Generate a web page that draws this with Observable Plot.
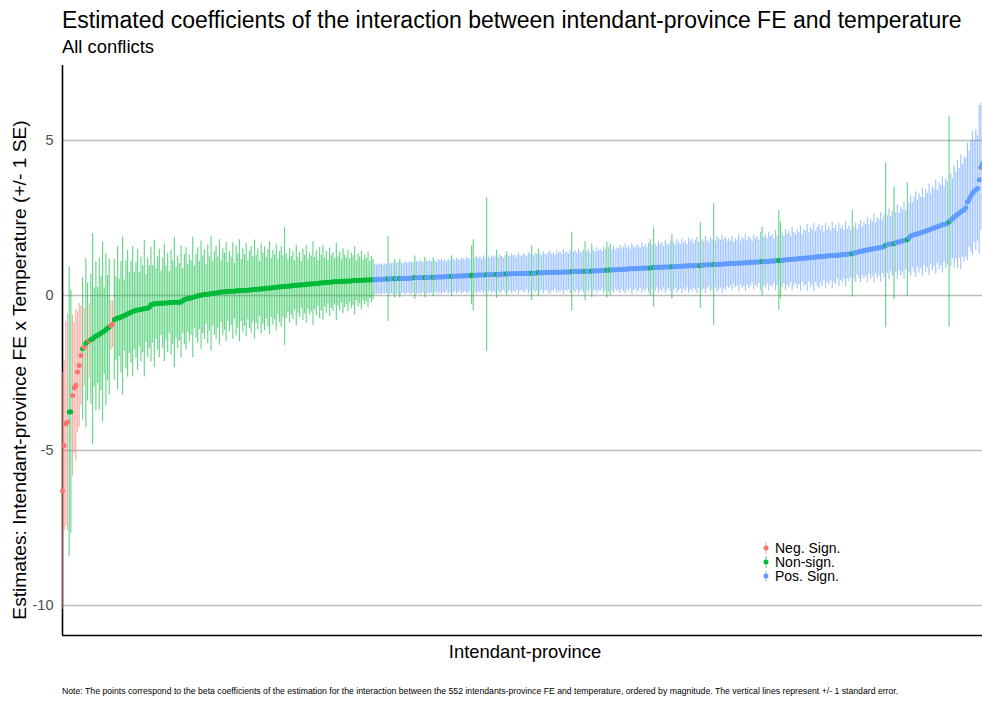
<!DOCTYPE html>
<html><head><meta charset="utf-8">
<script src="https://cdn.jsdelivr.net/npm/d3@7"></script>
<script src="https://cdn.jsdelivr.net/npm/@observablehq/plot@0.6"></script>
<style>
body{margin:0;background:#fff;font-family:"Liberation Sans",Arial,sans-serif;}
#wrap{position:relative;width:982px;height:702px;overflow:hidden;background:#fff;}
.t{position:absolute;white-space:nowrap;color:#000;line-height:1;}
#chart{position:absolute;left:0;top:0;}
#legend{position:absolute;left:760px;top:541px;font-size:14px;}
#legend .row{display:flex;align-items:center;height:14px;}
#legend .row span{display:block;height:14px;line-height:14px;white-space:nowrap;}
#legend svg{width:12px;height:14px;margin-right:3px;}
</style></head><body>
<div id="wrap">
<div id="chart"></div>
<div class="t" id="title" style="left:62px;top:9px;font-size:23px;"></div>
<div class="t" id="subtitle" style="left:62px;top:38px;font-size:18.4px;"></div>
<div class="t" id="ylab" style="left:20px;top:370px;font-size:19.2px;transform:translate(-50%,-50%) rotate(-90deg);"></div>
<div class="t" id="xlab" style="left:525px;top:643px;font-size:18.4px;transform:translateX(-50%);"></div>
<div id="legend"></div>
<div class="t" id="note" style="left:62px;top:687px;font-size:8.7px;"></div>
</div>
<script>
const titleText = "Estimated coefficients of the interaction between intendant-province FE and temperature";
const subtitleText = "All conflicts";
const yLabel = "Estimates: Intendant-province FE x Temperature (+/- 1 SE)";
const xLabel = "Intendant-province";
const noteText = "Note: The points correspond to the beta coefficients of the estimation for the interaction between the 552 intendants-province FE and temperature, ordered by magnitude. The vertical lines represent +/- 1 standard error.";
const signLabels = ["Neg. Sign.", "Non-sign.", "Pos. Sign."];
const signColors = ["#F8766D", "#00BA38", "#619CFF"];
const yTicks = [-10, -5, 0, 5];
const yDomain = [-10.97, 7.42];

const estimates = [
-6.30,-4.84,-4.14,-4.09,-3.76,-3.75,-3.23,-2.98,-2.90,-2.47,
-2.26,-1.94,-1.72,-1.67,-1.54,-1.50,-1.47,-1.42,-1.40,-1.35,
-1.31,-1.29,-1.25,-1.22,-1.18,-1.15,-1.10,-1.06,-1.02,-0.97,
-0.93,-0.78,-0.75,-0.73,-0.72,-0.70,-0.67,-0.65,-0.62,-0.59,
-0.57,-0.54,-0.52,-0.50,-0.48,-0.47,-0.46,-0.45,-0.44,-0.43,
-0.42,-0.40,-0.38,-0.30,-0.28,-0.27,-0.27,-0.26,-0.26,-0.25,
-0.25,-0.24,-0.24,-0.24,-0.23,-0.23,-0.23,-0.22,-0.22,-0.22,
-0.22,-0.21,-0.17,-0.13,-0.11,-0.10,-0.09,-0.08,-0.06,-0.05,
-0.03,-0.01,0.00,0.01,0.02,0.03,0.03,0.04,0.05,0.06,
0.07,0.07,0.08,0.09,0.10,0.11,0.11,0.12,0.12,0.13,
0.13,0.14,0.14,0.14,0.15,0.15,0.15,0.16,0.16,0.16,
0.17,0.17,0.18,0.18,0.19,0.19,0.20,0.20,0.21,0.21,
0.22,0.22,0.23,0.23,0.24,0.24,0.25,0.26,0.26,0.27,
0.27,0.28,0.29,0.29,0.30,0.30,0.31,0.31,0.32,0.32,
0.33,0.33,0.34,0.34,0.35,0.35,0.36,0.36,0.37,0.37,
0.38,0.38,0.39,0.39,0.40,0.40,0.41,0.41,0.42,0.43,
0.43,0.43,0.44,0.44,0.44,0.45,0.45,0.45,0.46,0.46,
0.46,0.47,0.47,0.47,0.48,0.48,0.48,0.49,0.49,0.49,
0.49,0.50,0.50,0.50,0.50,0.51,0.51,0.51,0.51,0.52,
0.52,0.52,0.52,0.53,0.53,0.53,0.53,0.54,0.54,0.54,
0.54,0.55,0.55,0.55,0.55,0.55,0.56,0.56,0.56,0.56,
0.57,0.57,0.57,0.57,0.57,0.58,0.58,0.58,0.58,0.58,
0.59,0.59,0.59,0.59,0.59,0.60,0.60,0.60,0.60,0.61,
0.61,0.61,0.61,0.62,0.62,0.62,0.62,0.63,0.63,0.63,
0.63,0.64,0.64,0.64,0.64,0.65,0.65,0.65,0.65,0.66,
0.66,0.66,0.66,0.66,0.67,0.67,0.67,0.67,0.68,0.68,
0.68,0.68,0.68,0.69,0.69,0.69,0.69,0.69,0.70,0.70,
0.70,0.70,0.70,0.71,0.71,0.71,0.71,0.71,0.72,0.72,
0.72,0.72,0.72,0.72,0.73,0.73,0.73,0.73,0.73,0.74,
0.74,0.74,0.74,0.74,0.75,0.75,0.75,0.75,0.75,0.75,
0.76,0.76,0.76,0.76,0.76,0.77,0.77,0.77,0.77,0.77,
0.77,0.78,0.78,0.78,0.78,0.78,0.78,0.79,0.79,0.79,
0.80,0.80,0.80,0.81,0.81,0.81,0.82,0.82,0.82,0.82,
0.83,0.83,0.83,0.84,0.84,0.84,0.85,0.85,0.85,0.86,
0.86,0.86,0.86,0.87,0.87,0.87,0.88,0.88,0.88,0.89,
0.89,0.89,0.89,0.90,0.90,0.90,0.91,0.91,0.91,0.91,
0.92,0.92,0.92,0.92,0.93,0.93,0.93,0.93,0.94,0.94,
0.94,0.94,0.95,0.95,0.95,0.96,0.96,0.96,0.96,0.97,
0.97,0.97,0.97,0.98,0.98,0.98,0.99,0.99,0.99,0.99,
1.00,1.00,1.00,1.00,1.01,1.01,1.01,1.02,1.02,1.02,
1.03,1.03,1.03,1.04,1.04,1.04,1.05,1.05,1.05,1.06,
1.06,1.06,1.07,1.07,1.07,1.08,1.08,1.08,1.09,1.09,
1.09,1.10,1.10,1.10,1.11,1.11,1.11,1.12,1.12,1.13,
1.13,1.14,1.14,1.15,1.15,1.16,1.16,1.17,1.17,1.18,
1.18,1.19,1.19,1.20,1.20,1.21,1.21,1.22,1.22,1.23,
1.23,1.24,1.24,1.25,1.25,1.26,1.26,1.27,1.27,1.28,
1.28,1.29,1.29,1.30,1.30,1.31,1.31,1.32,1.32,1.33,
1.33,1.34,1.34,1.35,1.37,1.38,1.39,1.41,1.42,1.43,
1.45,1.46,1.47,1.48,1.49,1.50,1.51,1.52,1.53,1.54,
1.55,1.56,1.58,1.62,1.64,1.65,1.66,1.67,1.68,1.70,
1.72,1.73,1.74,1.76,1.77,1.79,1.81,1.86,1.92,1.94,
1.96,1.97,1.99,2.00,2.02,2.04,2.06,2.08,2.10,2.12,
2.14,2.16,2.18,2.20,2.22,2.24,2.26,2.28,2.29,2.31,
2.33,2.38,2.43,2.48,2.53,2.57,2.61,2.65,2.69,2.73,
2.77,2.83,3.02,3.10,3.20,3.30,3.36,3.40,3.45,3.73,
4.14,4.25
];

const stdErrors = [
3.83,2.75,3.30,3.50,4.67,3.92,2.60,2.10,2.45,1.95,
2.00,1.60,2.30,1.25,2.73,1.90,1.20,2.10,3.40,1.60,
2.40,1.55,2.45,1.85,2.90,1.40,2.45,1.70,2.20,0.80,
0.75,1.95,1.35,2.30,1.25,1.80,2.55,1.15,1.75,2.05,
1.30,1.65,2.10,1.25,1.55,1.95,1.20,1.70,1.40,2.20,
1.10,1.60,1.35,1.85,1.25,2.05,1.15,1.50,1.75,1.05,
1.45,1.90,1.20,1.60,1.00,1.70,1.35,2.10,1.15,1.50,
1.25,1.80,1.05,1.45,1.65,1.10,1.40,1.20,1.95,1.00,
1.35,1.55,1.10,1.75,1.25,1.45,0.95,1.60,1.20,1.85,
1.05,1.35,1.50,1.15,1.70,1.00,1.40,1.25,1.60,0.95,
1.30,1.10,1.55,0.90,1.45,1.20,1.65,1.00,1.35,1.15,
1.50,0.95,1.25,1.40,1.05,1.60,1.10,1.30,0.90,1.45,
1.15,1.35,1.00,1.25,1.50,0.95,1.20,1.05,1.40,0.90,
1.15,1.30,1.00,1.90,1.05,0.85,1.20,0.95,1.10,0.80,
1.30,0.90,1.05,0.75,1.15,0.95,1.25,0.80,1.00,0.90,
1.35,0.85,1.05,0.75,1.15,0.90,1.20,0.80,1.00,0.70,
1.10,0.85,0.95,0.75,1.25,0.80,0.95,0.70,1.05,0.85,
0.75,1.00,0.70,0.90,0.80,1.10,0.65,0.85,0.75,0.95,
0.65,0.80,0.70,0.90,0.60,0.75,0.65,0.48,0.46,0.49,
0.47,0.50,0.46,0.49,0.47,1.37,0.50,0.48,0.51,0.62,
0.49,0.52,0.62,0.50,0.47,0.53,0.50,0.48,0.54,0.51,
0.49,0.70,0.53,0.50,0.55,0.52,0.49,0.65,0.54,0.51,
0.56,0.50,0.63,0.53,0.48,0.55,0.52,0.57,0.50,0.54,
0.48,0.56,0.52,0.66,0.55,0.50,0.57,0.53,0.49,0.58,
0.54,0.51,0.59,0.55,0.52,0.95,1.15,0.56,0.60,0.53,
0.58,0.50,0.62,0.55,2.48,0.57,0.52,0.61,0.55,0.59,
0.78,0.54,0.63,0.57,0.51,0.60,0.71,0.58,0.54,0.64,
0.57,0.61,0.52,0.66,0.58,0.55,0.63,0.59,0.53,0.67,
0.60,0.88,0.56,0.64,0.59,0.77,0.62,0.55,0.68,0.60,
0.57,0.65,0.70,0.58,0.63,0.55,0.69,0.61,0.66,0.58,
0.72,0.60,0.64,0.57,0.70,1.27,0.62,0.67,0.59,0.73,
0.64,0.60,0.69,0.96,0.63,0.71,0.58,0.86,0.66,0.61,
0.74,0.64,0.69,0.60,0.76,0.67,0.90,0.72,0.84,0.66,
0.76,0.63,0.70,0.68,0.78,0.65,0.72,0.80,0.67,0.74,
0.63,0.81,0.70,0.66,0.77,0.72,0.64,0.82,0.69,0.75,
0.66,0.80,0.91,0.71,1.28,0.76,0.68,0.84,0.73,0.79,
0.67,0.85,0.74,0.70,0.82,1.04,0.76,0.69,0.86,0.78,
0.72,0.88,0.75,0.81,0.70,0.89,0.77,0.84,0.72,0.80,
0.91,0.74,1.38,0.83,0.76,0.92,0.79,0.71,0.87,0.81,
1.96,0.75,0.90,0.83,0.77,0.94,0.80,0.86,0.73,0.80,
0.72,0.88,0.68,0.79,0.74,0.90,0.70,0.82,0.76,0.93,
0.71,0.84,0.77,0.66,0.89,0.75,0.83,0.70,0.95,1.10,
0.78,0.86,0.73,0.94,0.79,0.85,0.71,0.97,0.81,1.61,
1.24,0.88,0.76,0.98,0.83,0.91,0.74,1.02,0.86,0.79,
0.96,0.84,1.05,0.77,0.93,0.87,1.08,0.80,0.97,0.89,
1.10,0.82,0.95,1.04,0.85,0.99,0.78,1.06,0.84,0.94,
0.80,1.08,0.87,0.96,0.76,1.02,0.83,0.92,0.79,1.05,
0.81,0.90,0.77,1.40,0.85,0.95,0.74,0.88,1.00,0.78,
0.92,0.83,1.05,0.80,0.96,0.87,1.10,0.82,0.99,0.90,
1.12,0.85,1.01,2.66,0.93,1.15,0.88,1.05,1.82,0.97,
1.20,0.92,1.10,1.00,1.25,0.95,1.83,1.12,1.30,1.05,
1.22,1.38,1.08,1.28,1.15,1.42,1.10,1.33,1.20,1.48,
1.14,1.36,1.25,1.52,1.18,1.40,1.30,1.55,1.22,1.45,
1.35,3.40,1.50,1.30,1.65,1.40,1.75,1.45,1.85,1.50,
1.70,1.60,1.90,1.55,1.80,2.00,1.65,1.95,1.70,2.40,
2.05,1.55
];

const rows = estimates.map((e, k) => {
  const se = stdErrors[k];
  const lo = e - se, hi = e + se;
  const sign = hi < 0 ? signLabels[0] : (lo > 0 ? signLabels[2] : signLabels[1]);
  return {idx: k + 1, est: e, lo, hi, sign};
});
const xDomain = [1, estimates.length];

const chart = Plot.plot({
  width: 982,
  height: 702,
  marginTop: 65,
  marginBottom: 67,
  marginLeft: 62,
  marginRight: 0,
  style: {background: "transparent", fontFamily: "'Liberation Sans', Arial, sans-serif"},
  x: {domain: xDomain, axis: null},
  y: {domain: yDomain},
  color: {domain: signLabels, range: signColors},
  marks: [
    Plot.ruleY(yTicks, {stroke: "#bdbdbd", strokeWidth: 1.4}),
    Plot.axisY(yTicks, {tickSize: 0, tickPadding: 9, tickFormat: d => String(d), fontSize: 14.5, fill: "#4d4d4d", label: null}),
    Plot.ruleX([xDomain[0]], {stroke: "#000", strokeWidth: 1.6}),
    Plot.ruleY([yDomain[0]], {stroke: "#000", strokeWidth: 1.6}),
    Plot.ruleX(rows, {x: "idx", y1: "lo", y2: "hi", stroke: "sign", strokeOpacity: 0.6, strokeWidth: 1.15}),
    Plot.dot(rows, {x: "idx", y: "est", fill: "sign", r: 2.5, stroke: "none"})
  ]
});
document.getElementById("chart").appendChild(chart);
document.getElementById("title").textContent = titleText;
document.getElementById("subtitle").textContent = subtitleText;
document.getElementById("ylab").textContent = yLabel;
document.getElementById("xlab").textContent = xLabel;
document.getElementById("note").textContent = noteText;

const legend = document.getElementById("legend");
signLabels.forEach((lab, k) => {
  const row = document.createElement("div");
  row.className = "row";
  row.innerHTML = `<svg viewBox="0 0 12 14"><line x1="6" x2="6" y1="1" y2="13" stroke="${signColors[k]}" stroke-opacity="0.6" stroke-width="1.1"/><circle cx="6" cy="7" r="2.5" fill="${signColors[k]}"/></svg><span>${lab}</span>`;
  legend.appendChild(row);
});
</script>
</body></html>
